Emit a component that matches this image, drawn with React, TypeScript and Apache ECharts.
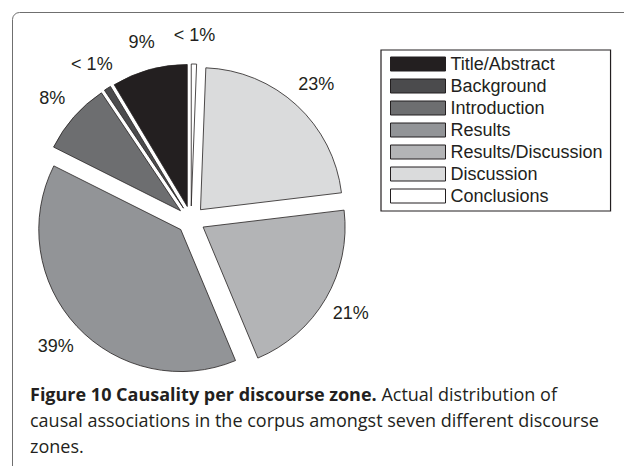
import React, { useEffect, useRef } from 'react';
import * as echarts from 'echarts';

const zones = ['Title/Abstract', 'Background', 'Introduction', 'Results', 'Results/Discussion', 'Discussion', 'Conclusions'];
const shares = [8.6, 0.8, 8.2, 38.7, 20.6, 22.5, 0.6];
const fills = ['#231f20', '#4b4b4d', '#6d6e70', '#929497', '#b3b4b6', '#dadbdc', '#ffffff'];
const captionBold = 'Figure 10 Causality per discourse zone.';
const captionRest = [' Actual distribution of', 'causal associations in the corpus amongst seven different discourse', 'zones.'];

const INK = '#231f20';
const CHART_FONT = '"Liberation Sans", Arial, sans-serif';
const CAPTION_FONT = '"Open Sans", "Noto Sans", sans-serif';

function fmt(v: number): string {
  return v < 1 ? '< 1%' : Math.round(v) + '%';
}

export default function App() {
  const ref = useRef<HTMLDivElement>(null);
  useEffect(() => {
    if (!ref.current) return;
    const chart = echarts.init(ref.current, undefined, { renderer: 'svg' });
    const data = zones.map((name, i) => ({
      name,
      value: shares[i],
      selected: true,
      itemStyle: { color: fills[i] },
    }));
    const labelData = zones.map((name, i) => ({ name, value: shares[i], selected: true }));
    const common = {
      type: 'pie' as const,
      center: [191, 220],
      startAngle: 90,
      clockwise: false,
      selectedMode: 'multiple' as const,
      selectedOffset: 14,
      avoidLabelOverlap: false,
      minAngle: 0,
    };
    chart.setOption({
      animation: false,
      backgroundColor: '#ffffff',
      legend: {
        orient: 'vertical',
        left: 381,
        top: 50,
        padding: [5, 8, 6, 9],
        borderColor: INK,
        borderWidth: 1.2,
        itemWidth: 55,
        itemHeight: 14,
        itemGap: 4,
        selectedMode: false,
        data: zones,
        icon: 'rect',
        itemStyle: { borderColor: INK, borderWidth: 1 },
        textStyle: { fontFamily: CHART_FONT, fontSize: 18, color: INK },
      },
      graphic: [
        {
          type: 'rect',
          shape: { x: 12.5, y: 12.5, width: 800, height: 700, r: [7, 0, 0, 0] },
          style: { fill: 'none', stroke: '#6f6f6f', lineWidth: 1 },
          silent: true,
        },
        {
          type: 'text',
          left: 30,
          top: 381,
          style: {
            text: '{b|' + captionBold + '}' + captionRest.join('\n'),
            fontFamily: CAPTION_FONT,
            fontSize: 18,
            lineHeight: 26,
            fill: INK,
            rich: {
              b: { fontFamily: CAPTION_FONT, fontSize: 18, fontWeight: 'bold', lineHeight: 26, fill: INK },
            },
          },
        },
      ],
      series: [
        {
          ...common,
          name: 'zones',
          radius: 142,
          data,
          label: { show: false },
          labelLine: { show: false },
          itemStyle: { borderColor: INK, borderWidth: 0.8 },
          emphasis: { disabled: true },
        },
        {
          ...common,
          name: 'labels',
          radius: [100, 236],
          data: labelData,
          silent: true,
          legendHoverLink: false,
          itemStyle: { color: 'rgba(0,0,0,0)', borderWidth: 0 },
          label: {
            show: true,
            position: 'inside',
            formatter: (p: any) => fmt(p.value),
            fontFamily: CHART_FONT,
            fontSize: 18,
            color: INK,
          },
          labelLine: { show: false },
          emphasis: { disabled: true },
        },
      ],
    });
    return () => chart.dispose();
  }, []);
  return <div ref={ref} style={{ position: 'fixed', left: 0, top: 0, width: 624, height: 466 }} />;
}
